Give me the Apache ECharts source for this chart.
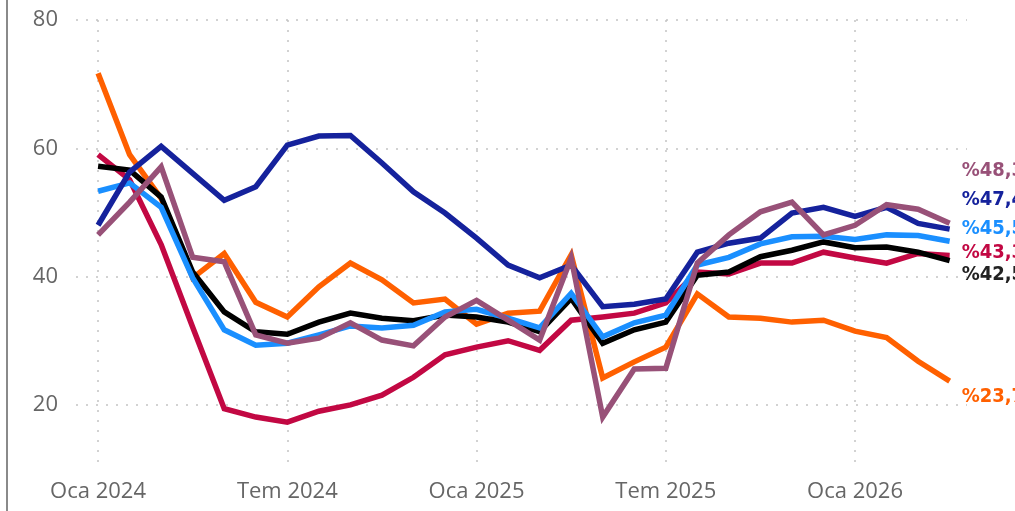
<!DOCTYPE html>
<html lang="tr">

<head>
  <meta charset="UTF-8">
  <script src="https://cdn.jsdelivr.net/npm/echarts@6/dist/echarts.min.js"></script>
  <title>Grafik</title>
</head>
<style>
  html,
  body {
    margin: 0;
    padding: 0;
    background: #fff;
    overflow: hidden;
  }

  #chart {
    width: 1015px;
    height: 511px;
  }
</style>

<body>
  <div id="chart"></div>
</body>
<script>
  // month labels (Oca 2024 .. Nis 2026)
  var months = [
    'Oca 2024', 'Şub 2024', 'Mar 2024', 'Nis 2024', 'May 2024', 'Haz 2024',
    'Tem 2024', 'Ağu 2024', 'Eyl 2024', 'Eki 2024', 'Kas 2024', 'Ara 2024',
    'Oca 2025', 'Şub 2025', 'Mar 2025', 'Nis 2025', 'May 2025', 'Haz 2025',
    'Tem 2025', 'Ağu 2025', 'Eyl 2025', 'Eki 2025', 'Kas 2025', 'Ara 2025',
    'Oca 2026', 'Şub 2026', 'Mar 2026', 'Nis 2026'
  ];
  var xTicks = [0, 6, 12, 18, 24];
  var yTicks = [20, 40, 60, 80];

  var orange = [71.7, 59.0, 52.2, 39.8, 43.6, 36.0, 33.7, 38.4, 42.1, 39.5, 35.9, 36.5, 32.6, 34.3, 34.6, 43.4,
    24.2, 26.7, 29.0, 37.3, 33.7, 33.5, 32.9, 33.2, 31.5, 30.5, 26.8, 23.7];
  var crimson = [59.0, 55.1, 45.0, 32.1, 19.4, 18.1, 17.3, 19.0, 20.0, 21.5, 24.3, 27.8, 29.0, 30.0, 28.5, 33.2,
    33.7, 34.3, 35.9, 40.7, 40.4, 42.1, 42.1, 43.8, 42.9, 42.1, 43.6, 43.3];
  var black = [57.2, 56.6, 52.4, 40.7, 34.5, 31.4, 31.0, 32.9, 34.3, 33.5, 33.1, 34.0, 33.7, 32.9, 31.4, 36.6,
    29.6, 31.7, 32.9, 40.2, 40.7, 43.1, 44.1, 45.4, 44.5, 44.6, 43.8, 42.5];
  var lightBlue = [53.3, 54.6, 50.8, 39.8, 31.7, 29.3, 29.6, 30.9, 32.3, 32.0, 32.4, 34.5, 34.9, 33.5, 32.0, 37.4,
    30.6, 32.8, 34.0, 41.8, 43.0, 45.1, 46.2, 46.3, 45.8, 46.5, 46.4, 45.5];
  var navy = [48.0, 56.3, 60.3, 56.1, 51.9, 54.0, 60.5, 61.9, 62.0, 57.7, 53.2, 49.9, 46.0, 41.8, 39.8, 41.8,
    35.3, 35.7, 36.5, 43.8, 45.2, 46.0, 49.9, 50.8, 49.4, 50.8, 48.3, 47.4];
  var mauve = [46.5, 51.6, 57.1, 43.0, 42.3, 30.9, 29.6, 30.4, 32.8, 30.1, 29.2, 33.7, 36.3, 33.2, 30.1, 42.9,
    18.1, 25.6, 25.7, 42.1, 46.5, 50.1, 51.6, 46.5, 48.0, 51.2, 50.5, 48.3];

  var lines = [
    { name: 'Turuncu', data: orange, color: '#ff6000', labelColor: '#ff6000', dy: 16 },
    { name: 'Kırmızı', data: crimson, color: '#c20843', labelColor: '#c20843', dy: -3 },
    { name: 'Siyah', data: black, color: '#000000', labelColor: '#222222', dy: 14 },
    { name: 'Açık mavi', data: lightBlue, color: '#1a8fff', labelColor: '#1a8fff', dy: -12 },
    { name: 'Lacivert', data: navy, color: '#15229c', labelColor: '#15229c', dy: -29 },
    { name: 'Mor', data: mauve, color: '#985178', labelColor: '#985178', dy: -53 }
  ];

  var chart = echarts.init(document.getElementById('chart'));

  var series = lines.map(function (l) {
    return {
      name: l.name,
      type: 'line',
      data: l.data.map(function (v, i) { return [i, v]; }),
      showSymbol: false,
      symbol: 'none',
      lineStyle: { color: l.color, width: 5.5, join: 'miter' },
      itemStyle: { color: l.color },
      emphasis: { disabled: true },
      endLabel: {
        show: true,
        distance: 12,
        offset: [0, l.dy],
        color: l.labelColor,
        fontFamily: 'DejaVu Sans Condensed',
        fontSize: 20,
        fontWeight: 'bold',
        formatter: function (p) {
          return '%' + p.value[1].toFixed(1).replace('.', ',');
        }
      }
    };
  });

  var option = {
    animation: false,
    grid: { left: 76, right: 48, top: 20, bottom: 42, containLabel: false },
    xAxis: {
      type: 'value',
      min: -0.7,
      max: 27.55,
      axisLine: { show: false },
      axisTick: { show: false, customValues: xTicks },
      axisLabel: {
        customValues: xTicks,
        margin: 12,
        color: '#666',
        fontFamily: 'Open Sans',
        fontSize: 22,
        formatter: function (v) { return months[v]; }
      },
      splitLine: { show: true, lineStyle: { color: '#c4c4c4', width: 1.5, type: [2, 8] } }
    },
    yAxis: {
      type: 'value',
      min: 10,
      max: 80,
      axisLine: { show: false },
      axisTick: { show: false, customValues: yTicks },
      axisLabel: {
        customValues: yTicks,
        margin: 18,
        color: '#666',
        fontFamily: 'Open Sans',
        fontSize: 22
      },
      splitLine: { show: true, lineStyle: { color: '#c4c4c4', width: 1.5, type: [2, 8] } }
    },
    graphic: [{
      type: 'line',
      shape: { x1: 7, y1: 0, x2: 7, y2: 511 },
      style: { stroke: '#8a8a8a', lineWidth: 2 }
    }],
    series: series
  };

  chart.setOption(option);
</script>

</html>
